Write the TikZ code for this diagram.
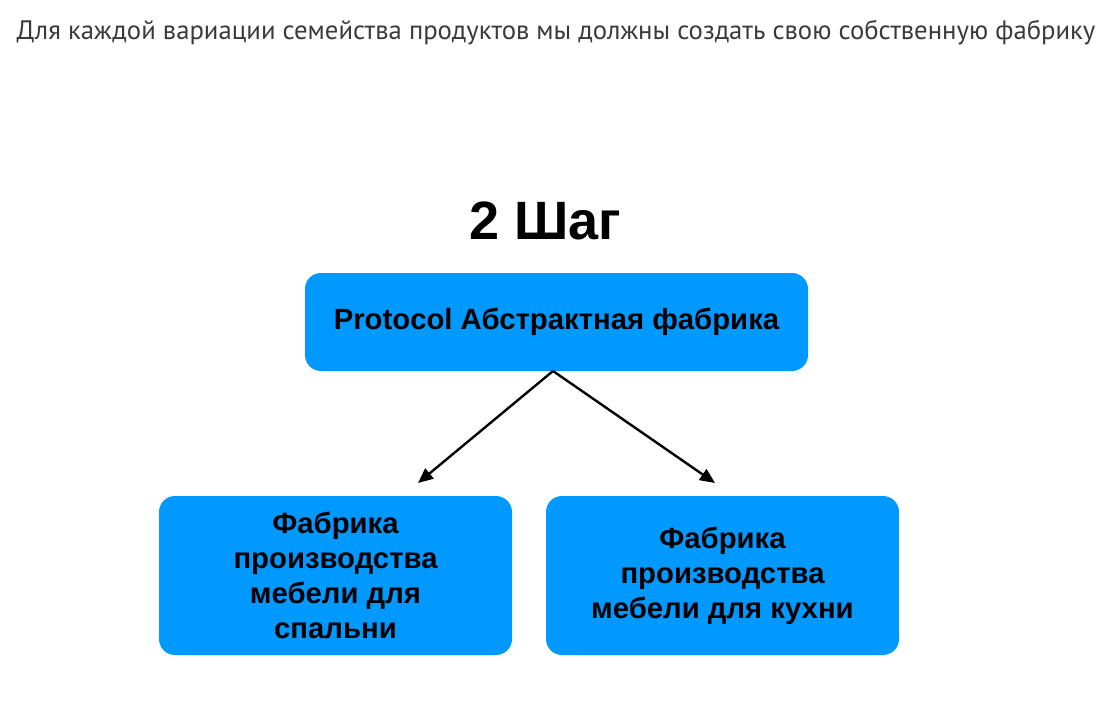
\documentclass[tikz,border=0pt]{standalone}
\usepackage{fontspec}
\setmainfont{Liberation Sans}
\newfontfamily\ptsans{PT Sans}
\definecolor{boxblue}{RGB}{0,153,255}
\definecolor{capgray}{RGB}{58,58,58}
\usetikzlibrary{arrows.meta}

\begin{document}
\begin{tikzpicture}[x=1pt, y=-1pt,
  factory/.style={fill=boxblue, rounded corners=16pt, inner sep=0pt,
    align=center, font=\bfseries\fontsize{29.3}{35}\selectfont},
  link/.style={-{Triangle[length=15pt,width=13pt]}, line width=2.4pt}]
\useasboundingbox (0,0) rectangle (1120,717);
\node[capgray, font=\ptsans\fontsize{26.7}{31}\selectfont] (caption) at (556,33) {Для каждой вариации семейства продуктов мы должны создать свою собственную фабрику};
\node[font=\bfseries\fontsize{54}{60}\selectfont] (step) at (545,221) {2 Шаг};
\node[factory, minimum width=503pt, minimum height=98pt] (abstract) at (556.5,322) {Protocol Абстрактная фабрика};
\node[factory, minimum width=353pt, minimum height=159pt] (bedroom) at (335.5,575.5) {Фабрика\\производства\\мебели для\\спальни};
\node[factory, minimum width=353pt, minimum height=159pt] (kitchen) at (722.5,575.5) {Фабрика\\производства\\мебели для кухни};
\coordinate (fork) at (553,371);
\coordinate (bedend) at (418,483);
\coordinate (kitend) at (715,483);
\draw[link] (fork) -- (bedend);
\draw[link] (fork) -- (kitend);
\end{tikzpicture}
\end{document}
